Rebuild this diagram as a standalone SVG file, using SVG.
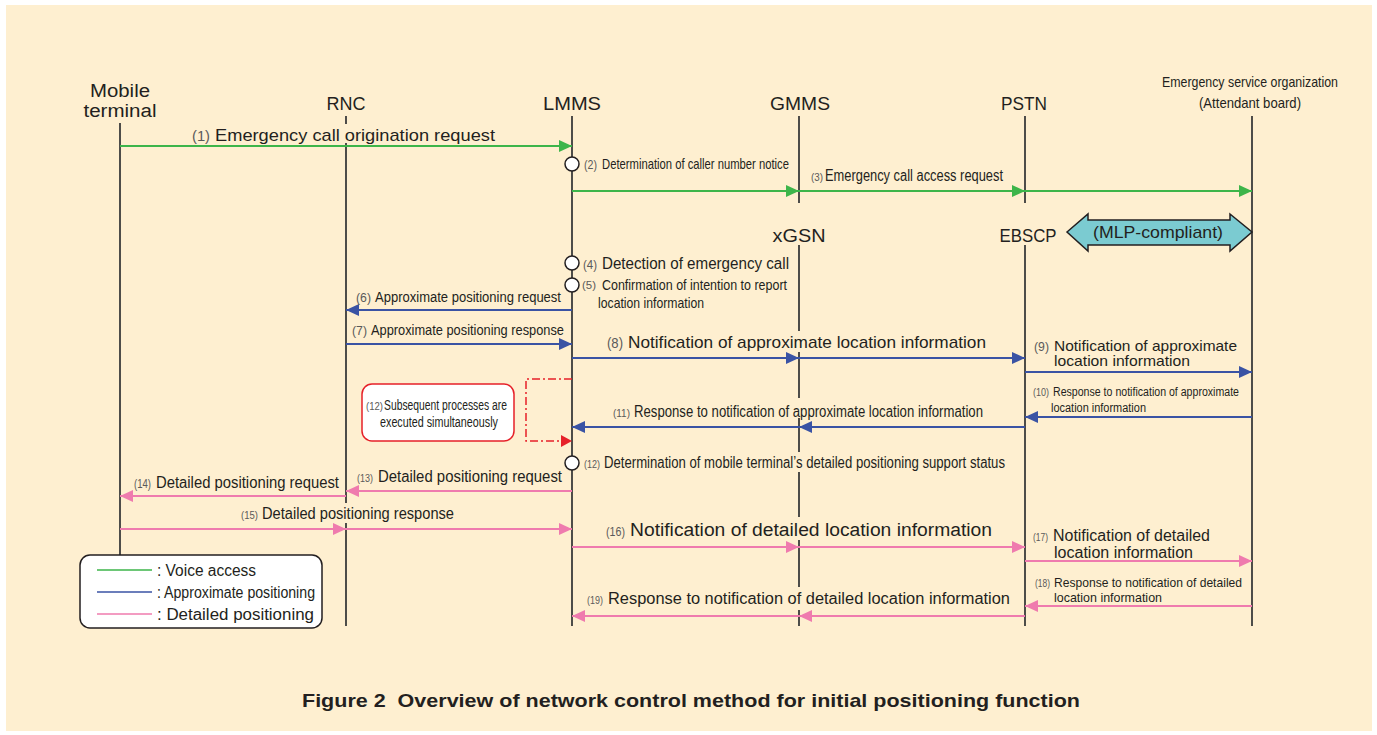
<svg xmlns="http://www.w3.org/2000/svg" width="1377" height="735" viewBox="0 0 1377 735">
<style>
text{font-family:"Liberation Sans",Arial,sans-serif;fill:#231F20}
.h{font-size:18px;text-anchor:middle}
.n{fill:#5a5a5a}
.life{stroke:#3a3a3a;stroke-width:1.8;fill:none}
.ko{fill:#FEEFD0}
.g{stroke:#3DB54A;stroke-width:2;fill:none;marker-end:url(#ag)}
.b{stroke:#3A53A4;stroke-width:2;fill:none;marker-end:url(#ab)}
.p{stroke:#EF7BAE;stroke-width:2;fill:none;marker-end:url(#ap)}
.circ{fill:#fff;stroke:#231F20;stroke-width:1.5}
</style>
<defs>
<marker id="ag" markerUnits="userSpaceOnUse" markerWidth="13" markerHeight="12" refX="13" refY="6" orient="auto"><path d="M0,0L13,6L0,12z" fill="#3DB54A"/></marker>
<marker id="ab" markerUnits="userSpaceOnUse" markerWidth="13" markerHeight="12" refX="13" refY="6" orient="auto"><path d="M0,0L13,6L0,12z" fill="#3A53A4"/></marker>
<marker id="ap" markerUnits="userSpaceOnUse" markerWidth="13" markerHeight="12" refX="13" refY="6" orient="auto"><path d="M0,0L13,6L0,12z" fill="#EF7BAE"/></marker>
<marker id="ar" markerUnits="userSpaceOnUse" markerWidth="11" markerHeight="12" refX="11" refY="6" orient="auto"><path d="M0,0L11,6L0,12z" fill="#E62129"/></marker>
</defs>
<rect x="0" y="0" width="1377" height="735" fill="#fff"/>
<rect x="6" y="5" width="1366" height="726" fill="#FEEFD0"/>

<g id="node-mobile">
<line class="life" x1="120" y1="123" x2="120" y2="555"/>
<text class="h" x="120" y="97" textLength="60" lengthAdjust="spacingAndGlyphs">Mobile</text>
<text class="h" x="120" y="117" textLength="73" lengthAdjust="spacingAndGlyphs">terminal</text>
</g>
<g id="node-rnc">
<line class="life" x1="346" y1="116" x2="346" y2="626"/>
<text class="h" x="346" y="110" textLength="39" lengthAdjust="spacingAndGlyphs">RNC</text>
</g>
<g id="node-lmms">
<line class="life" x1="572" y1="116" x2="572" y2="626"/>
<text class="h" x="572" y="110" textLength="58" lengthAdjust="spacingAndGlyphs">LMMS</text>
</g>
<g id="node-gmms">
<line class="life" x1="799" y1="116" x2="799" y2="203"/>
<text class="h" x="800" y="110" textLength="60" lengthAdjust="spacingAndGlyphs">GMMS</text>
</g>
<g id="node-pstn">
<line class="life" x1="1025" y1="116" x2="1025" y2="203"/>
<text class="h" x="1024" y="110" textLength="46" lengthAdjust="spacingAndGlyphs">PSTN</text>
</g>
<g id="node-xgsn">
<line class="life" x1="799" y1="245" x2="799" y2="626"/>
<text class="h" x="799" y="242" textLength="53" lengthAdjust="spacingAndGlyphs">xGSN</text>
</g>
<g id="node-ebscp">
<line class="life" x1="1025" y1="245" x2="1025" y2="626"/>
<text class="h" x="1028" y="242" textLength="57" lengthAdjust="spacingAndGlyphs">EBSCP</text>
</g>
<g id="node-emergency">
<line class="life" x1="1252" y1="116" x2="1252" y2="626" stroke="#4a4a4a"/>
<text x="1250" y="87" font-size="15" text-anchor="middle" textLength="176" lengthAdjust="spacingAndGlyphs">Emergency service organization</text>
<text x="1250" y="108" font-size="15" text-anchor="middle" textLength="102" lengthAdjust="spacingAndGlyphs">(Attendant board)</text>
</g>

<g id="knockouts">
<rect class="ko" x="340" y="124" width="12" height="19"/>
<rect class="ko" x="793" y="331" width="12" height="21"/>
<rect class="ko" x="793" y="398" width="12" height="20"/>
<rect class="ko" x="793" y="452" width="12" height="20"/>
<rect class="ko" x="340" y="503" width="12" height="20"/>
<rect class="ko" x="793" y="517" width="12" height="23"/>
<rect class="ko" x="793" y="587" width="12" height="23"/>
</g>

<g id="connectors">
<line class="g" x1="120" y1="146" x2="572" y2="146"/>
<line class="g" x1="572" y1="191" x2="799" y2="191"/>
<line class="g" x1="799" y1="191" x2="1025" y2="191"/>
<line class="g" x1="1025" y1="191" x2="1252" y2="191"/>
<line class="b" x1="572" y1="310" x2="346" y2="310"/>
<line class="b" x1="346" y1="344" x2="572" y2="344"/>
<line class="b" x1="572" y1="358" x2="799" y2="358"/>
<line class="b" x1="799" y1="358" x2="1025" y2="358"/>
<line class="b" x1="1025" y1="372" x2="1252" y2="372"/>
<line class="b" x1="1252" y1="417" x2="1025" y2="417"/>
<line class="b" x1="1025" y1="427" x2="799" y2="427"/>
<line class="b" x1="799" y1="427" x2="572" y2="427"/>
<path d="M572,379H526V441H572" fill="none" stroke="#E62129" stroke-width="1.5" stroke-dasharray="8 3 2 3" marker-end="url(#ar)"/>
<line class="p" x1="572" y1="491" x2="346" y2="491"/>
<line class="p" x1="346" y1="496" x2="120" y2="496"/>
<line class="p" x1="120" y1="529" x2="346" y2="529"/>
<line class="p" x1="346" y1="529" x2="572" y2="529"/>
<line class="p" x1="572" y1="547" x2="799" y2="547"/>
<line class="p" x1="799" y1="547" x2="1025" y2="547"/>
<line class="p" x1="1025" y1="561" x2="1252" y2="561"/>
<line class="p" x1="1252" y1="606" x2="1025" y2="606"/>
<line class="p" x1="1025" y1="616" x2="799" y2="616"/>
<line class="p" x1="799" y1="616" x2="572" y2="616"/>
</g>

<g id="mlp-arrow">
<polygon points="1067,232 1088,214 1088,220 1230,220 1230,214 1252,232 1230,251 1230,245 1088,245 1088,251" fill="#7BCBD1" stroke="#231F20" stroke-width="1.5"/>
<text x="1158" y="238" font-size="17" text-anchor="middle" textLength="130" lengthAdjust="spacingAndGlyphs">(MLP-compliant)</text>
</g>

<g id="events">
<circle class="circ" cx="572" cy="164" r="7"/>
<circle class="circ" cx="572" cy="263" r="7"/>
<circle class="circ" cx="572" cy="285" r="7"/>
<circle class="circ" cx="572" cy="463" r="7"/>
</g>

<g id="labels">
<text class="n" x="192" y="141" font-size="14" textLength="18" lengthAdjust="spacingAndGlyphs">(1)</text>
<text x="215" y="141" font-size="17" textLength="280" lengthAdjust="spacingAndGlyphs">Emergency call origination request</text>
<text class="n" x="584" y="169" font-size="13" textLength="13" lengthAdjust="spacingAndGlyphs">(2)</text>
<text x="602" y="169" font-size="15" textLength="187" lengthAdjust="spacingAndGlyphs">Determination of caller number notice</text>
<text class="n" x="811" y="181" font-size="11" textLength="12" lengthAdjust="spacingAndGlyphs">(3)</text>
<text x="825" y="181" font-size="16" textLength="178" lengthAdjust="spacingAndGlyphs">Emergency call access request</text>
<text class="n" x="583" y="269" font-size="13" textLength="14" lengthAdjust="spacingAndGlyphs">(4)</text>
<text x="602" y="269" font-size="16" textLength="187" lengthAdjust="spacingAndGlyphs">Detection of emergency call</text>
<text class="n" x="582" y="289" font-size="11.5" textLength="14" lengthAdjust="spacingAndGlyphs">(5)</text>
<text x="602" y="290" font-size="15" textLength="185" lengthAdjust="spacingAndGlyphs">Confirmation of intention to report</text>
<text x="598" y="308" font-size="15" textLength="106" lengthAdjust="spacingAndGlyphs">location information</text>
<text class="n" x="356" y="302" font-size="13" textLength="15" lengthAdjust="spacingAndGlyphs">(6)</text>
<text x="375" y="302" font-size="14" textLength="186" lengthAdjust="spacingAndGlyphs">Approximate positioning request</text>
<text class="n" x="352" y="335" font-size="13" textLength="15" lengthAdjust="spacingAndGlyphs">(7)</text>
<text x="371" y="335" font-size="15" textLength="193" lengthAdjust="spacingAndGlyphs">Approximate positioning response</text>
<text class="n" x="607" y="348" font-size="15" textLength="16" lengthAdjust="spacingAndGlyphs">(8)</text>
<text x="628" y="348" font-size="17" textLength="358" lengthAdjust="spacingAndGlyphs">Notification of approximate location information</text>
<text class="n" x="1034" y="351" font-size="13" textLength="15" lengthAdjust="spacingAndGlyphs">(9)</text>
<text x="1054" y="351" font-size="15" textLength="183" lengthAdjust="spacingAndGlyphs">Notification of approximate</text>
<text x="1054" y="366" font-size="15" textLength="136" lengthAdjust="spacingAndGlyphs">location information</text>
<text class="n" x="1033" y="396" font-size="11" textLength="16" lengthAdjust="spacingAndGlyphs">(10)</text>
<text x="1053" y="396" font-size="12.5" textLength="186" lengthAdjust="spacingAndGlyphs">Response to notification of approximate</text>
<text x="1051" y="412" font-size="12.5" textLength="95" lengthAdjust="spacingAndGlyphs">location information</text>
<text class="n" x="613" y="417" font-size="11.5" textLength="17" lengthAdjust="spacingAndGlyphs">(11)</text>
<text x="634" y="417" font-size="16" textLength="349" lengthAdjust="spacingAndGlyphs">Response to notification of approximate location information</text>
<text class="n" x="584" y="468" font-size="11" textLength="16" lengthAdjust="spacingAndGlyphs">(12)</text>
<text x="604" y="468" font-size="16" textLength="401" lengthAdjust="spacingAndGlyphs">Determination of mobile terminal’s detailed positioning support status</text>
<text class="n" x="357" y="482" font-size="11.5" textLength="16" lengthAdjust="spacingAndGlyphs">(13)</text>
<text x="378" y="482" font-size="16" textLength="184" lengthAdjust="spacingAndGlyphs">Detailed positioning request</text>
<text class="n" x="134" y="488" font-size="12" textLength="17" lengthAdjust="spacingAndGlyphs">(14)</text>
<text x="156" y="488" font-size="16" textLength="183" lengthAdjust="spacingAndGlyphs">Detailed positioning request</text>
<text class="n" x="241" y="519" font-size="11.5" textLength="17" lengthAdjust="spacingAndGlyphs">(15)</text>
<text x="262" y="519" font-size="16" textLength="192" lengthAdjust="spacingAndGlyphs">Detailed positioning response</text>
<text class="n" x="606" y="536" font-size="13" textLength="19" lengthAdjust="spacingAndGlyphs">(16)</text>
<text x="630" y="536" font-size="18" textLength="362" lengthAdjust="spacingAndGlyphs">Notification of detailed location information</text>
<text class="n" x="1033" y="541" font-size="11" textLength="15" lengthAdjust="spacingAndGlyphs">(17)</text>
<text x="1053" y="541" font-size="16" textLength="157" lengthAdjust="spacingAndGlyphs">Notification of detailed</text>
<text x="1054" y="558" font-size="16" textLength="139" lengthAdjust="spacingAndGlyphs">location information</text>
<text class="n" x="1035" y="587" font-size="10.5" textLength="15" lengthAdjust="spacingAndGlyphs">(18)</text>
<text x="1054" y="587" font-size="13" textLength="188" lengthAdjust="spacingAndGlyphs">Response to notification of detailed</text>
<text x="1054" y="602" font-size="13" textLength="108" lengthAdjust="spacingAndGlyphs">location information</text>
<text class="n" x="587" y="604" font-size="11.5" textLength="16" lengthAdjust="spacingAndGlyphs">(19)</text>
<text x="608" y="604" font-size="16" textLength="402" lengthAdjust="spacingAndGlyphs">Response to notification of detailed location information</text>
</g>

<g id="note-simultaneous">
<rect x="362" y="384" width="152" height="57" rx="10" fill="#fff" stroke="#E62129" stroke-width="1.5"/>
<text class="n" x="366" y="410" font-size="10" textLength="17" lengthAdjust="spacingAndGlyphs">(12)</text>
<text x="384" y="410" font-size="14" textLength="123" lengthAdjust="spacingAndGlyphs">Subsequent processes are</text>
<text x="380" y="427" font-size="14" textLength="118" lengthAdjust="spacingAndGlyphs">executed simultaneously</text>
</g>

<g id="legend">
<rect x="80" y="555" width="242" height="73" rx="10" fill="#fff" stroke="#231F20" stroke-width="1.5"/>
<line x1="97" y1="570" x2="152" y2="570" stroke="#3DB54A" stroke-width="1.5"/>
<line x1="97" y1="592" x2="152" y2="592" stroke="#3A53A4" stroke-width="1.5"/>
<line x1="97" y1="614" x2="152" y2="614" stroke="#EF7BAE" stroke-width="1.5"/>
<text x="157" y="576" font-size="16" textLength="99" lengthAdjust="spacingAndGlyphs">: Voice access</text>
<text x="157" y="598" font-size="16" textLength="158" lengthAdjust="spacingAndGlyphs">: Approximate positioning</text>
<text x="157" y="620" font-size="16" textLength="157" lengthAdjust="spacingAndGlyphs">: Detailed positioning</text>
</g>

<g id="caption">
<text x="302" y="707" font-size="19" font-weight="bold" textLength="778" lengthAdjust="spacingAndGlyphs">Figure 2&#160; Overview of network control method for initial positioning function</text>
</g>
</svg>
